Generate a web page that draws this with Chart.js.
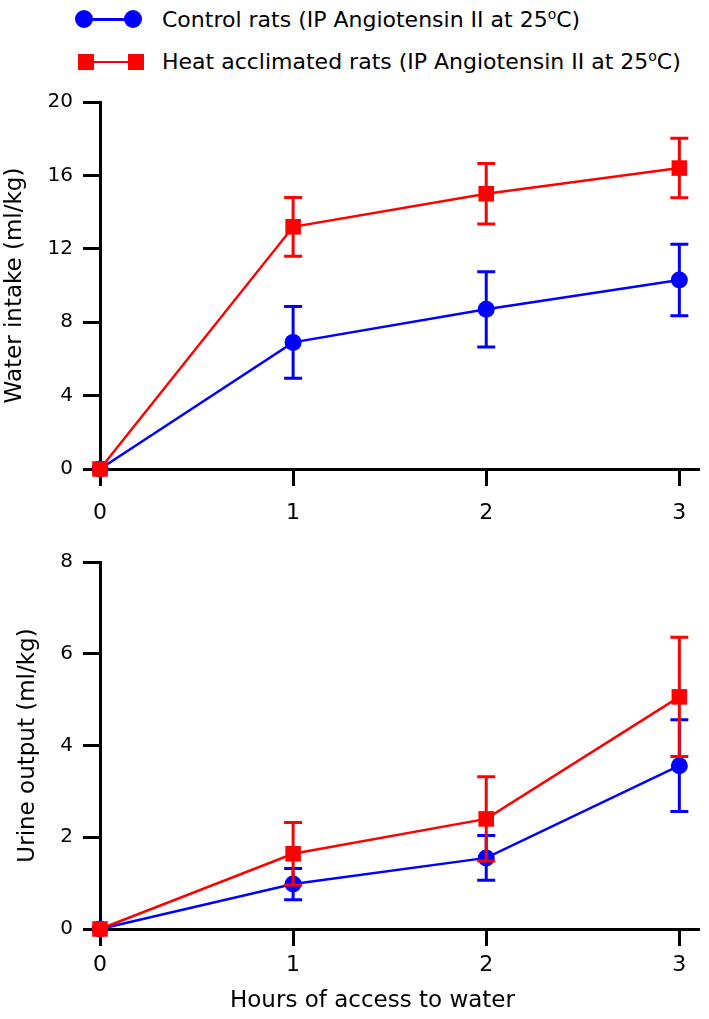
<!DOCTYPE html>
<html lang="en">
<head>
<meta charset="UTF-8">
<title>Water intake and urine output</title>
<script src="https://cdn.jsdelivr.net/npm/chart.js"></script>
<style>
  body { margin: 0; background: #fff; font-family: "DejaVu Sans", sans-serif; color: #000; }
  #page { position: relative; width: 709px; height: 1019px; overflow: hidden; }
  .box { position: absolute; left: 0; width: 709px; }
  .dot { position: absolute; width: 18px; height: 18px; border-radius: 50%; background: #0000ff; }
  .sq { position: absolute; width: 16px; height: 16px; background: #ff0000; }
  .bar { position: absolute; }
  .txt { position: absolute; left: 162px; font-size: 22px; line-height: 26px; white-space: nowrap; }
  .txt span { font-size: 14px; position: relative; top: -8px; }
  #xlabel { position: absolute; left: 230px; top: 986px; font-size: 23px; line-height: 27px; white-space: nowrap; }
</style>
</head>
<body>
<div id="page">
  <!-- legend -->
  <div class="bar" style="left:84px; top:18px; width:49px; height:3px; background:#0000ff;"></div>
  <div class="dot" style="left:75px; top:10px;"></div>
  <div class="dot" style="left:124px; top:10px;"></div>
  <div class="txt" style="top:7px;">Control rats (IP Angiotensin II at 25<span>o</span>C)</div>

  <div class="bar" style="left:86px; top:61px; width:50px; height:2px; background:#ff0000;"></div>
  <div class="sq" style="left:78px; top:54px;"></div>
  <div class="sq" style="left:128px; top:54px;"></div>
  <div class="txt" style="top:49px;">Heat acclimated rats (IP Angiotensin II at 25<span>o</span>C)</div>

  <div class="box" style="top:80px; height:455px;"><canvas id="waterChart"></canvas></div>
  <div class="box" style="top:540px; height:479px;"><canvas id="urineChart"></canvas></div>
  <div id="xlabel">Hours of access to water</div>
</div>

<script>
const hours = [0, 1, 2, 3];
const hourTicks = [0, 1, 2, 3];

// water intake (ml/kg), mean and error
const waterControl = [0, 6.9, 8.7, 10.3];
const waterControlErr = [0, 1.95, 2.05, 1.95];
const waterHeat = [0, 13.2, 15.0, 16.4];
const waterHeatErr = [0, 1.6, 1.65, 1.62];
const waterTicks = [0, 4, 8, 12, 16, 20];

// urine output (ml/kg), mean and error
const urineControl = [0, 0.98, 1.55, 3.56];
const urineControlErr = [0, 0.34, 0.49, 1.0];
const urineHeat = [0, 1.64, 2.40, 5.06];
const urineHeatErr = [0, 0.68, 0.92, 1.3];
const urineTicks = [0, 2, 4, 6, 8];

const BLUE = '#0000ff';
const RED = '#ff0000';

Chart.defaults.font.family = "'DejaVu Sans', sans-serif";
Chart.defaults.color = '#000';

// vertical error bars with caps, drawn right after their own dataset
const errorBars = {
  id: 'errorBars',
  afterDatasetDraw(chart, args) {
    const ds = chart.data.datasets[args.index];
    if (!ds.errors) return;
    const ctx = chart.ctx;
    const x = chart.scales.x, y = chart.scales.y;
    ctx.save();
    ctx.strokeStyle = ds.borderColor;
    ctx.lineWidth = 3;
    ds.data.forEach((p, i) => {
      const e = ds.errors[i];
      if (!e) return;
      const px = x.getPixelForValue(p.x);
      const top = y.getPixelForValue(p.y + e);
      const bot = y.getPixelForValue(p.y - e);
      ctx.beginPath();
      ctx.moveTo(px, top); ctx.lineTo(px, bot);
      ctx.moveTo(px - 9, top); ctx.lineTo(px + 9, top);
      ctx.moveTo(px - 9, bot); ctx.lineTo(px + 9, bot);
      ctx.stroke();
    });
    ctx.restore();
  }
};

function points(vals) {
  return hours.map((h, i) => ({ x: h, y: vals[i] }));
}

function makeChart(id, ctrl, ctrlErr, heat, heatErr, yTicks, yTitle, titlePad, xHeight, xPad) {
  return new Chart(document.getElementById(id), {
    type: 'line',
    data: {
      datasets: [
        {
          label: 'Heat acclimated rats',
          data: points(heat), errors: heatErr, order: 1,
          borderColor: RED, backgroundColor: RED, borderWidth: 2.5,
          pointStyle: 'rect', pointRadius: 11, pointBorderWidth: 0,
          clip: false
        },
        {
          label: 'Control rats',
          data: points(ctrl), errors: ctrlErr, order: 2,
          borderColor: BLUE, backgroundColor: BLUE, borderWidth: 2.5,
          pointStyle: 'circle', pointRadius: 8.5, pointBorderWidth: 0,
          clip: false
        }
      ]
    },
    options: {
      responsive: true,
      maintainAspectRatio: false,
      animation: false,
      layout: { padding: { top: 15, left: 0, right: 0, bottom: 0 } },
      plugins: { legend: { display: false }, tooltip: { enabled: false } },
      scales: {
        x: {
          type: 'linear',
          min: 0,
          max: 3 * 609 / 590,
          afterBuildTicks: s => { s.ticks = hourTicks.map(v => ({ value: v })); },
          afterFit: s => { s.height = xHeight; },
          grid: { drawOnChartArea: false, drawTicks: true, tickLength: 17, color: '#000', lineWidth: 3 },
          border: { display: true, color: '#000', width: 3 },
          ticks: { font: { size: 22 }, padding: xPad, color: '#000', maxRotation: 0 }
        },
        y: {
          min: 0,
          max: yTicks[yTicks.length - 1],
          afterBuildTicks: s => { s.ticks = yTicks.map(v => ({ value: v })); },
          afterFit: s => { s.width = 100; },
          grid: { drawOnChartArea: false, drawTicks: true, tickLength: 17, color: '#000', lineWidth: 3 },
          border: { display: true, color: '#000', width: 3 },
          ticks: { font: { size: 20 }, padding: 10, color: '#000' },
          title: { display: true, text: yTitle, font: { size: 23 }, color: '#000', padding: { top: titlePad, bottom: 0 } }
        }
      }
    },
    plugins: [errorBars]
  });
}

makeChart('waterChart', waterControl, waterControlErr, waterHeat, waterHeatErr,
  waterTicks, 'Water intake (ml/kg)', 1, 66, 14);
makeChart('urineChart', urineControl, urineControlErr, urineHeat, urineHeatErr,
  urineTicks, 'Urine output (ml/kg)', 14, 90, 6);
</script>
</body>
</html>
